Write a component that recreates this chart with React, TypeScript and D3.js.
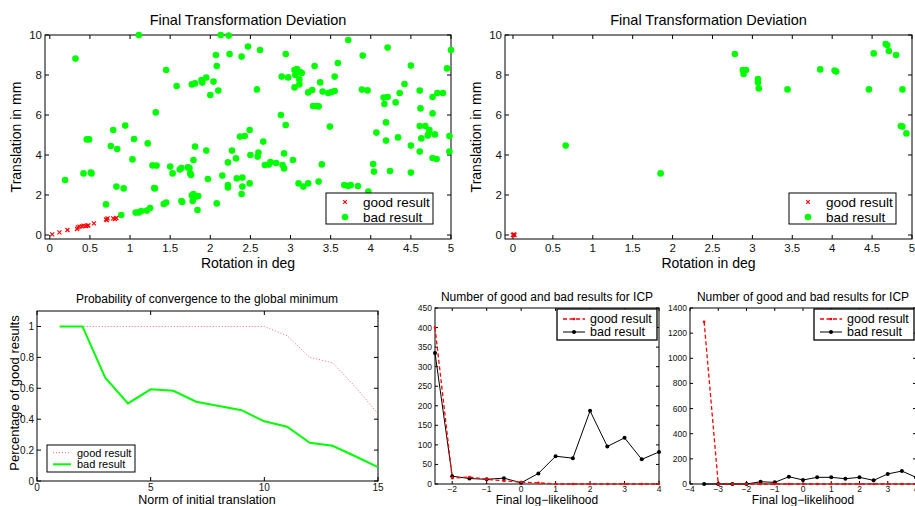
import React from 'react';
import * as d3 from 'd3';

const W = 915, H = 506;
const FONT = '"Liberation Sans", Arial, Helvetica, sans-serif';

// top-left scatter: [rotation in deg, translation in mm]
const tlGood = [[0.03,0.03],[0.12,0.13],[0.22,0.25],[0.34,0.3],[0.35,0.38],[0.37,0.42],[0.4,0.43],[0.42,0.47],[0.45,0.45],[0.47,0.47],[0.48,0.48],[0.55,0.58],[0.7,0.78],[0.71,0.75],[0.72,0.83],[0.79,0.83],[0.81,0.8],[0.83,0.85]];
const tlBad = [
  [0.32,8.82],[1.11,10],[2.13,10],[2.23,9.97],[2.47,9.42],[2.62,9.25],[2.07,9.0],[2.24,9.05],[2.39,8.92],[2.94,9.05],[3.72,9.75],[3.9,8.97],[4.21,9.37],[5.0,9.25],[2.08,8.45],[1.45,8.25],[4.5,8.47],[4.95,8.33],
  [3.05,8.25],[3.06,8.0],[3.12,8.15],[3.14,8.1],[3.11,7.78],[3.3,8.45],[2.89,7.92],[2.97,7.88],[3.37,7.63],[3.55,7.92],[3.05,7.38],[3.11,7.53],[3.22,7.13],[3.27,7.25],[3.4,7.17],[3.47,7.1],[3.51,7.15],[3.55,7.2],[3.89,7.27],[3.96,7.23],[4.16,6.87],[4.21,6.9],[4.36,7.1],[4.42,7.55],[4.61,7.22],[4.77,6.9],[4.83,7.1],[4.9,7.1],[4.17,6.55],[4.31,6.63],[4.62,6.33],[3.28,6.45],[3.33,6.45],[3.35,6.43],[4.77,6.08],[2.88,6.0],[2.94,5.5],[3.59,8.6],
  [1.32,6.13],[1.58,7.45],[1.77,7.53],[1.81,7.58],[1.89,7.75],[1.95,7.87],[1.9,7.62],[2.04,7.67],[2.0,7.0],[2.1,7.22],[2.58,7.28],
  [0.79,5.25],[0.94,5.47],[0.46,4.78],[0.49,4.78],[1.05,4.8],[1.22,4.58],[0.76,4.45],[0.84,4.3],[1.03,3.78],[0.42,3.08],[0.51,3.12],[0.52,3.08],[0.19,2.75],[0.83,2.42],[0.92,2.33],[1.3,2.35],[1.31,2.33],[1.28,3.48],[1.33,3.47],[1.5,3.42],[1.53,3.08],[1.62,3.28],[1.64,3.35],[1.72,3.38],[1.74,3.35],[1.75,3.08],[1.76,3.0],[1.79,3.75],[1.81,4.42],[1.95,4.22],[1.97,2.8],[1.77,1.98],[1.79,2.05],[1.81,1.9],[1.85,1.95],[1.64,1.7],[1.65,1.65],[1.78,1.7],[1.84,1.25],[2.08,1.58],[1.42,1.55],[1.45,1.62],[1.25,1.35],[1.21,1.22],[1.14,1.2],[1.07,1.12],[1.11,1.13],[0.89,1.0],[0.7,1.53],
  [2.15,2.97],[2.22,2.5],[2.22,2.38],[2.22,3.63],[2.27,4.22],[2.32,3.83],[2.33,2.83],[2.4,2.87],[2.4,2.42],[2.39,2.05],[2.37,4.92],[2.43,4.95],[2.49,5.25],[2.49,2.58],[2.5,4.0],[2.6,4.12],[2.59,3.92],[2.66,4.67],[2.68,3.5],[2.73,3.52],[2.75,3.65],[2.82,3.6],[2.9,3.5],[2.92,3.33],[2.92,4.08],[3.03,3.75],[3.1,2.58],[3.16,2.42],[3.22,2.58],[3.35,2.67],[3.39,3.53],[3.49,5.42],[3.67,2.5],[3.72,2.45],[3.75,2.5],[3.84,2.45],[3.97,2.17],[4.03,3.55],[4.04,3.17],[4.07,5.12],[4.19,4.72],[4.19,5.63],[4.24,3.2],[4.34,4.88],[4.5,4.47],[4.5,3.12],[4.61,5.45],[4.61,4.17],[4.63,4.83],[4.68,5.45],[4.73,5.25],[4.71,4.97],[4.72,5.05],[4.8,5.03],[4.77,3.85],[4.82,3.8],[4.98,4.95],[4.98,4.17],[3.08,8.3]
];

// top-right scatter
const trGood = [[0.0,0.0],[0.01,0.03],[0.02,0.0]];
const trBad = [[0.66,4.47],[1.85,3.08],[2.78,9.05],[2.88,8.25],[2.89,8.05],[2.92,8.25],[3.07,7.8],[3.07,7.62],[3.08,7.33],[3.44,7.28],[3.85,8.28],[4.03,8.22],[4.05,8.17],[4.46,7.28],[4.52,9.08],[4.67,9.55],[4.69,9.5],[4.71,9.2],[4.8,9.0],[4.88,7.28],[4.86,5.45],[4.88,5.42],[4.93,5.08]];

// probability of convergence
const normX = [1,2,3,4,5,6,7,8,9,10,11,12,13,14,15];
const probGood = [1,1,1,1,1,1,1,1,1,1,0.94,0.8,0.765,0.61,0.435];
const probBad = [1,1,0.668,0.502,0.593,0.584,0.513,0.485,0.458,0.386,0.351,0.247,0.228,0.16,0.09];

// number of good/bad results (middle)
const llMid = [-2.5,-2,-1.5,-1,-0.5,0,0.5,1,1.5,2,2.5,3,3.5,4];
const midGood = [400,15,18,12,8,5,3,0,0,0,0,0,0,0];
const midBad = [335,20,14,12,15,3,27,71,66,187,96,118,63,82];

// number of good/bad results (right)
const llRight = [-3.5,-3,-2.5,-2,-1.5,-1,-0.5,0,0.5,1,1.5,2,2.5,3,3.5,4];
const rightGood = [1290,0,0,0,0,0,0,0,0,0,0,0,0,0,0,0];
const rightBad = [0,0,0,0,18,13,58,32,53,53,42,53,29,80,103,53];

const topXTicks = [0,0.5,1,1.5,2,2.5,3,3.5,4,4.5,5];
const topYTicks = [0,2,4,6,8,10];
const probXTicks = [0,5,10,15];
const probYTicks = [0,0.2,0.4,0.6,0.8,1];
const midXTicks = [-2,-1,0,1,2,3,4];
const midYTicks = [0,50,100,150,200,250,300,350,400,450];
const rightXTicks = [-4,-3,-2,-1,0,1,2,3,4];
const rightYTicks = [0,200,400,600,800,1000,1200,1400];

const fmt = (v: number) => d3.format('')(v);

function Frame({ x, y, xt, yt, fs, tl = 4, xOff }: any) {
  const [x0, x1] = x.range();
  const [y0, y1] = y.range();
  return (
    <g fontFamily={FONT} fontSize={fs} fill="#111">
      <rect x={x0} y={y1} width={x1 - x0} height={y0 - y1} fill="none" stroke="#000" strokeWidth={1} />
      {xt.map((t: number) => (
        <g key={'x' + t}>
          <line x1={x(t)} x2={x(t)} y1={y0} y2={y0 - tl} stroke="#000" />
          <line x1={x(t)} x2={x(t)} y1={y1} y2={y1 + tl} stroke="#000" />
          <text x={x(t)} y={y0 + xOff} textAnchor="middle">{fmt(t)}</text>
        </g>
      ))}
      {yt.map((t: number) => (
        <g key={'y' + t}>
          <line x1={x0} x2={x0 + tl} y1={y(t)} y2={y(t)} stroke="#000" />
          <line x1={x1} x2={x1 - tl} y1={y(t)} y2={y(t)} stroke="#000" />
          <text x={x0 - 3} y={y(t)} dy="0.35em" textAnchor="end">{fmt(t)}</text>
        </g>
      ))}
    </g>
  );
}

const Cross = ({ cx, cy, s = 2 }: any) => (
  <g stroke="#ff0000" strokeWidth={1.1}>
    <line x1={cx - s} y1={cy - s} x2={cx + s} y2={cy + s} />
    <line x1={cx - s} y1={cy + s} x2={cx + s} y2={cy - s} />
  </g>
);

function Scatter({ left, right, xMin, good, bad, legendX }: any) {
  const x = d3.scaleLinear().domain([xMin, 5]).range([left, right]);
  const y = d3.scaleLinear().domain([-0.2, 10]).range([239, 35]);
  const cx = (left + right) / 2;
  return (
    <g>
      <Frame x={x} y={y} xt={topXTicks} yt={topYTicks} fs={11.5} xOff={13} />
      {bad.map((d: number[], i: number) => (
        <circle key={i} cx={x(d[0])} cy={y(d[1])} r={3.3} fill="#00ff00" />
      ))}
      {good.map((d: number[], i: number) => (
        <Cross key={i} cx={x(d[0])} cy={y(d[1])} />
      ))}
      <g fontFamily={FONT} fill="#000">
        <text x={cx} y={25} fontSize={14.5} textAnchor="middle">Final Transformation Deviation</text>
        <text x={cx} y={268} fontSize={14} textAnchor="middle">Rotation in deg</text>
        <text transform={`translate(${left - 24},137) rotate(-90)`} fontSize={14} textAnchor="middle">Translation in mm</text>
      </g>
      <g fontFamily={FONT} fontSize={13.5}>
        <rect x={legendX} y={193} width={107} height={31} fill="#fff" stroke="#000" />
        <Cross cx={legendX + 19} cy={202} s={1.8} />
        <circle cx={legendX + 19} cy={217} r={3.3} fill="#00ff00" />
        <text x={legendX + 37} y={202} dy="0.35em">good result</text>
        <text x={legendX + 37} y={217} dy="0.35em">bad result</text>
      </g>
    </g>
  );
}

function Prob() {
  const x = d3.scaleLinear().domain([0, 15]).range([37, 378]);
  const y = d3.scaleLinear().domain([0, 1.1]).range([481, 311]);
  const line = d3.line<number>().x((_, i) => x(normX[i])).y(d => y(d));
  return (
    <g>
      <Frame x={x} y={y} xt={probXTicks} yt={probYTicks} fs={10} xOff={10} />
      <path d={line(probGood) || ''} fill="none" stroke="#ff6666" strokeWidth={1} strokeDasharray="1,2" />
      <path d={line(probBad) || ''} fill="none" stroke="#00ff00" strokeWidth={2} />
      <g fontFamily={FONT} fill="#000">
        <text x={207} y={303} fontSize={12} textAnchor="middle">Probability of convergence to the global minimum</text>
        <text x={207} y={503.5} fontSize={12.5} textAnchor="middle">Norm of initial translation</text>
        <text transform="translate(19,393) rotate(-90)" fontSize={13} textAnchor="middle">Percentage of good results</text>
      </g>
      <g fontFamily={FONT} fontSize={11}>
        <rect x={47} y={445} width={88} height={27} fill="#fff" stroke="#000" />
        <line x1={53} x2={71} y1={452.7} y2={452.7} stroke="#ff6666" strokeDasharray="1,2" />
        <line x1={53} x2={71} y1={464.3} y2={464.3} stroke="#00ff00" strokeWidth={2} />
        <text x={77} y={452.7} dy="0.35em">good result</text>
        <text x={77} y={464.3} dy="0.35em">bad result</text>
      </g>
    </g>
  );
}

function Counts({ left, right, xs, good, bad, xDom, yMax, xt, yt, legendX }: any) {
  const x = d3.scaleLinear().domain(xDom).range([left, right]);
  const y = d3.scaleLinear().domain([0, yMax]).range([484, 308]);
  const line = d3.line<number>().x((_, i) => x(xs[i])).y(d => y(d));
  const cx = (left + right) / 2;
  return (
    <g>
      <Frame x={x} y={y} xt={xt} yt={yt} fs={8.5} tl={3} xOff={8} />
      <path d={line(bad) || ''} fill="none" stroke="#000" strokeWidth={1} />
      {bad.map((d: number, i: number) => <circle key={i} cx={x(xs[i])} cy={y(d)} r={2} fill="#000" />)}
      <path d={line(good) || ''} fill="none" stroke="#ff0000" strokeWidth={1.3} strokeDasharray="4,2.5" />
      {good.map((d: number, i: number) => <circle key={i} cx={x(xs[i])} cy={y(d)} r={1.3} fill="#ff0000" />)}
      <g fontFamily={FONT} fill="#000">
        <text x={cx} y={301} fontSize={12} textAnchor="middle">Number of good and bad results for ICP</text>
        <text x={cx} y={503.5} fontSize={12} textAnchor="middle">Final log−likelihood</text>
      </g>
      <g fontFamily={FONT} fontSize={12.5}>
        <rect x={legendX} y={309} width={100} height={31} fill="#fff" stroke="#000" strokeWidth={1.3} />
        <line x1={legendX + 6} x2={legendX + 28} y1={319} y2={319} stroke="#ff0000" strokeWidth={1.3} strokeDasharray="4,2.5" />
        <circle cx={legendX + 17} cy={319} r={1.3} fill="#ff0000" />
        <line x1={legendX + 6} x2={legendX + 28} y1={332} y2={332} stroke="#000" />
        <circle cx={legendX + 17} cy={332} r={2} fill="#000" />
        <text x={legendX + 33} y={319} dy="0.35em">good result</text>
        <text x={legendX + 33} y={332} dy="0.35em">bad result</text>
      </g>
    </g>
  );
}

export default function App() {
  return (
    <svg width={W} height={H} style={{ position: 'absolute', left: 0, top: 0, background: '#fff' }}>
      <Scatter left={45} right={451} xMin={-0.06} good={tlGood} bad={tlBad} legendX={326} />
      <Scatter left={505} right={912} xMin={-0.1} good={trGood} bad={trBad} legendX={789} />
      <Prob />
      <Counts left={435} right={659} xs={llMid} good={midGood} bad={midBad} xDom={[-2.5, 4]} yMax={450} xt={midXTicks} yt={midYTicks} legendX={557} />
      <Counts left={690} right={916} xs={llRight} good={rightGood} bad={rightBad} xDom={[-4, 4]} yMax={1400} xt={rightXTicks} yt={rightYTicks} legendX={814} />
    </svg>
  );
}
